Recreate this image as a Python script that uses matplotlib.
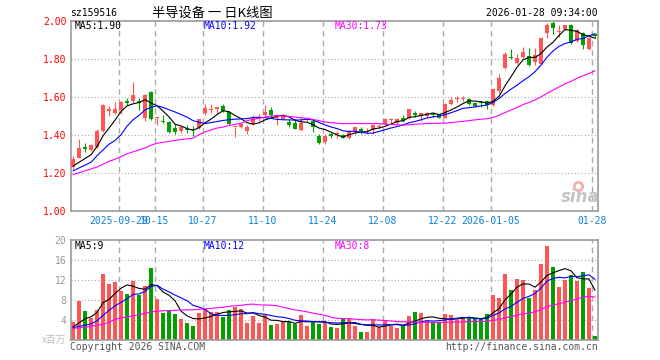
import numpy as np
import pandas as pd
import matplotlib
matplotlib.use('Agg')
import matplotlib.pyplot as plt

# daily candles, 2025-09-17 .. 2026-01-28
opens = [1.232, 1.279, 1.337, 1.319, 1.337, 1.419, 1.525, 1.512, 1.530, 1.577,
         1.577, 1.577, 1.487, 1.626, 1.489, 1.472, 1.467, 1.433, 1.419, 1.432,
         1.432, 1.437, 1.516, 1.530, 1.533, 1.551, 1.519, 1.440, 1.440, 1.419,
         1.454, 1.484, 1.502, 1.528, 1.489, 1.484, 1.467, 1.460, 1.425, 1.477,
         1.472, 1.393, 1.363, 1.402, 1.402, 1.398, 1.381, 1.419, 1.428, 1.414,
         1.423, 1.440, 1.454, 1.475, 1.463, 1.489, 1.489, 1.515, 1.498, 1.498,
         1.510, 1.507, 1.490, 1.560, 1.589, 1.590, 1.586, 1.568, 1.570, 1.577,
         1.555, 1.628, 1.749, 1.810, 1.776, 1.810, 1.814, 1.785, 1.770, 1.937,
         1.990, 1.940, 1.955, 1.977, 1.895, 1.934, 1.851, 1.930]
highs = [1.288, 1.375, 1.358, 1.350, 1.428, 1.560, 1.551, 1.572, 1.577, 1.595,
         1.677, 1.595, 1.612, 1.630, 1.495, 1.502, 1.472, 1.454, 1.446, 1.449,
         1.446, 1.484, 1.560, 1.563, 1.547, 1.560, 1.526, 1.442, 1.463, 1.451,
         1.502, 1.510, 1.556, 1.547, 1.510, 1.507, 1.484, 1.484, 1.495, 1.490,
         1.484, 1.402, 1.402, 1.414, 1.419, 1.405, 1.423, 1.440, 1.440, 1.437,
         1.458, 1.454, 1.490, 1.490, 1.490, 1.502, 1.537, 1.525, 1.515, 1.520,
         1.520, 1.510, 1.565, 1.598, 1.604, 1.604, 1.591, 1.574, 1.580, 1.580,
         1.642, 1.720, 1.835, 1.853, 1.823, 1.861, 1.858, 1.858, 1.910, 1.989,
         2.000, 1.975, 1.980, 1.985, 1.955, 1.940, 1.915, 1.935]
lows = [1.218, 1.275, 1.309, 1.314, 1.332, 1.416, 1.498, 1.507, 1.507, 1.554,
        1.568, 1.530, 1.472, 1.477, 1.453, 1.460, 1.407, 1.402, 1.411, 1.411,
        1.393, 1.428, 1.502, 1.512, 1.516, 1.519, 1.451, 1.388, 1.435, 1.402,
        1.451, 1.472, 1.495, 1.495, 1.451, 1.481, 1.440, 1.428, 1.421, 1.472,
        1.416, 1.353, 1.353, 1.384, 1.381, 1.381, 1.375, 1.405, 1.405, 1.402,
        1.405, 1.433, 1.451, 1.463, 1.458, 1.468, 1.481, 1.495, 1.472, 1.490,
        1.495, 1.486, 1.486, 1.556, 1.574, 1.578, 1.556, 1.546, 1.546, 1.537,
        1.552, 1.620, 1.744, 1.796, 1.770, 1.805, 1.761, 1.767, 1.767, 1.910,
        1.930, 1.915, 1.950, 1.875, 1.890, 1.850, 1.845, 1.910]
closes = [1.274, 1.332, 1.323, 1.344, 1.419, 1.556, 1.533, 1.533, 1.572, 1.565,
          1.609, 1.568, 1.607, 1.484, 1.495, 1.467, 1.414, 1.414, 1.440, 1.425,
          1.425, 1.481, 1.542, 1.537, 1.547, 1.525, 1.454, 1.442, 1.454, 1.440,
          1.486, 1.491, 1.519, 1.502, 1.495, 1.502, 1.449, 1.432, 1.460, 1.484,
          1.440, 1.358, 1.393, 1.393, 1.410, 1.384, 1.419, 1.440, 1.419, 1.419,
          1.451, 1.446, 1.484, 1.481, 1.484, 1.472, 1.533, 1.505, 1.512, 1.515,
          1.505, 1.490, 1.560, 1.580, 1.595, 1.595, 1.563, 1.551, 1.565, 1.556,
          1.639, 1.700, 1.826, 1.805, 1.805, 1.835, 1.767, 1.820, 1.907, 1.977,
          1.962, 1.945, 1.977, 1.885, 1.951, 1.872, 1.910, 1.920]
# volume, millions
volumes = [3.66, 7.86, 5.9, 4.5, 6.06, 13.26, 11.3, 11.66, 9.86, 9.33,
           11.93, 9.06, 10.86, 14.53, 8.26, 5.53, 5.86, 5.26, 4.26, 3.53,
           2.86, 5.46, 6.26, 5.73, 5.66, 4.73, 6.06, 6.73, 6.2, 3.5,
           4.9, 3.5, 5.1, 3.1, 3.3, 3.7, 3.6, 3.2, 5.1, 2.9,
           3.9, 3.3, 3.5, 2.7, 2.5, 4.5, 4.2, 2.9, 1.7, 1.7,
           4.3, 2.6, 3.9, 2.9, 2.5, 3.1, 4.9, 5.7, 5.4, 3.9,
           3.5, 3.5, 5.2, 5.0, 4.1, 4.4, 4.4, 4.4, 4.4, 5.2,
           9.1, 8.5, 13.3, 10.1, 12.3, 12.1, 8.5, 10.1, 15.3, 18.9,
           14.7, 10.7, 12.1, 13.1, 11.9, 13.7, 10.5, 0.9]

# MA values shown before the window is full (they use older days)
ma5_head = [1.235, 1.255, 1.275, 1.295]
ma10_head = [1.21, 1.225, 1.24, 1.255, 1.29, 1.32, 1.35, 1.37, 1.40]
ma30_head = [1.19, 1.20, 1.21, 1.22, 1.23, 1.245, 1.26, 1.27, 1.285, 1.30,
             1.31, 1.32, 1.33, 1.345, 1.355, 1.36, 1.365, 1.37, 1.375, 1.378,
             1.382, 1.40, 1.415, 1.425, 1.435, 1.44, 1.448, 1.455, 1.46]
vma5_head = [2.7, 3.5, 4.3, 4.7]
vma10_head = [2.5, 2.8, 3.0, 3.3, 3.9, 5.0, 6.0, 6.9, 7.6]
vma30_head = [2.4, 2.5, 2.6, 2.8, 3.0, 3.2, 3.6, 4.2, 4.5, 4.7,
              4.9, 5.1, 5.4, 5.7, 5.8, 5.9, 5.95, 6.0, 6.05, 6.1,
              6.1, 6.2, 6.3, 6.4, 6.5, 6.6, 6.8, 6.9, 7.0]

date_idx = [8, 14, 22, 32, 42, 52, 62, 70, 87]
date_labels = ['2025-09-29', '10-15', '10-27', '11-10', '11-24', '12-08',
               '12-22', '2026-01-05', '01-28']
price_ticks = [1.00, 1.20, 1.40, 1.60, 1.80, 2.00]
vol_ticks = [4, 8, 12, 16, 20]

RED = '#ff5555'
GREEN = '#00a000'
GRID = '#aaaaaa'
MONO = 'DejaVu Sans Mono'
CJK = ['Noto Sans CJK SC', 'DejaVu Sans']


def moving_avg(values, n, head):
    s = pd.Series(values, dtype=float).rolling(n).mean()
    s.iloc[:n - 1] = head
    return s.values


o = np.array(opens); h = np.array(highs); l = np.array(lows); c = np.array(closes)
v = np.array(volumes)
x = np.arange(len(c))
cols = np.where(c >= o, RED, GREEN)

W, H = 660, 360
fig = plt.figure(figsize=(W / 100, H / 100), dpi=100)


def px_axes(left, top, right, bottom):
    return fig.add_axes([left / W, 1 - bottom / H, (right - left) / W, (bottom - top) / H])


ax = px_axes(70.7, 20.7, 597.7, 210.7)
axv = px_axes(70.7, 240.3, 597.7, 340.3)

for a in (ax, axv):
    a.set_xlim(-0.4, 87.45)
    for s in a.spines.values():
        s.set_color('#999999')
        s.set_linewidth(1.2)
    a.tick_params(length=0)
    for xi in date_idx:
        a.axvline(xi - 0.42, color=GRID, lw=1, ls=(0, (4, 3)), zorder=0)

# price panel
ax.set_ylim(1.0, 2.0)
for yv in price_ticks[1:-1]:
    ax.axhline(yv, color=GRID, lw=0.8, ls=(0, (1, 2)), zorder=0)
ax.vlines(x, l, h, colors=cols, lw=0.8, zorder=2)
ax.bar(x, np.maximum(np.abs(c - o), 0.004), bottom=np.minimum(o, c), width=0.8,
       color=cols, linewidth=0, zorder=3)
ax.plot(x, moving_avg(c, 5, ma5_head), color='black', lw=0.8, zorder=4)
ax.plot(x, moving_avg(c, 10, ma10_head), color='#0000ff', lw=0.8, zorder=4)
ax.plot(x, moving_avg(c, 30, ma30_head), color='#ff00ff', lw=0.8, zorder=4)
ax.set_yticks(price_ticks, ['%.2f' % t for t in price_ticks])
ax.tick_params(axis='y', labelcolor='red', pad=3)
ax.set_xticks([i - 0.42 for i in date_idx], date_labels)
ax.tick_params(axis='x', labelcolor='#0a80d8', pad=4)
for lab in ax.get_xticklabels() + ax.get_yticklabels():
    lab.set_fontfamily(MONO)
    lab.set_fontsize(7)

# volume panel
axv.set_ylim(0, 20)
for yv in vol_ticks[:-1]:
    axv.axhline(yv, color=GRID, lw=0.8, ls=(0, (1, 2)), zorder=0)
axv.bar(x, v, width=0.8, color=cols, linewidth=0, zorder=2)
axv.plot(x, moving_avg(v, 5, vma5_head), color='black', lw=0.8, zorder=4)
axv.plot(x, moving_avg(v, 10, vma10_head), color='#0000ff', lw=0.8, zorder=4)
axv.plot(x, moving_avg(v, 30, vma30_head), color='#ff00ff', lw=0.8, zorder=4)
axv.set_xticks([])
axv.set_yticks(vol_ticks, [str(t) for t in vol_ticks])
axv.tick_params(axis='y', labelcolor='#999999', pad=3)
for lab in axv.get_yticklabels():
    lab.set_fontfamily(MONO)
    lab.set_fontsize(7)


def ftext(px, py, s, **kw):
    kw.setdefault('family', MONO)
    kw.setdefault('fontsize', 7)
    kw.setdefault('va', 'center')
    fig.text(px / W, 1 - py / H, s, **kw)


ftext(70, 13, 'sz159516')
ftext(212, 13, '半导设备 一 日K线图', family=CJK, fontsize=9.5, ha='center')
ftext(597.7, 13, '2026-01-28 09:34:00', ha='right')
ftext(75, 26, 'MA5:1.90', color='black')
ftext(204, 26, 'MA10:1.92', color='#0000ff')
ftext(335, 26, 'MA30:1.73', color='#ff00ff')
ftext(75, 246, 'MA5:9', color='black')
ftext(204, 246, 'MA10:12', color='#0000ff')
ftext(335, 246, 'MA30:8', color='#ff00ff')
ftext(66, 340, 'x百万', family=CJK, fontsize=7, color='#bbbbbb', ha='right')
ftext(70, 347, 'Copyright 2026 SINA.COM', color='#555555')
ftext(597.7, 347, 'http://finance.sina.com.cn', color='#555555', ha='right')
# sina watermark: gray word plus the red "eye" drawn as a ring marker
ftext(580, 197, 'sina', family='DejaVu Sans', fontsize=12, fontweight='bold',
      style='italic', color='#c4c4c4', ha='center')
fig.add_artist(plt.Line2D([578 / W], [1 - 186 / H], marker='o', markersize=6,
                          mfc='none', mec='#f2b0b0', mew=2, ls='none'))

fig.savefig('out.png', dpi=100)
